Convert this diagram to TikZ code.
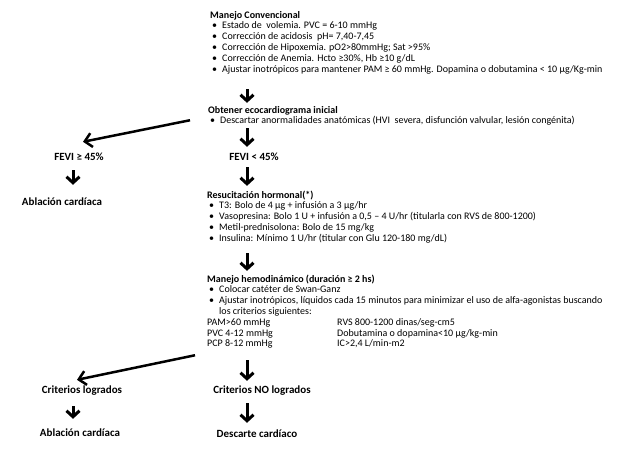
\documentclass[tikz,border=0pt]{standalone}
\usepackage{fontspec}
\setmainfont{Carlito}
\usetikzlibrary{arrows.meta,calc}
\newcommand\bul{\makebox[12pt][l]{\hspace{2pt}•}}
\begin{document}
\begin{tikzpicture}[x=1pt,y=-1pt,
  blk/.style={inner sep=0pt, anchor=base west, font=\fontsize{10}{10.8}\selectfont},
  lbl/.style={inner sep=0pt, anchor=base, text height=7.5pt, text depth=2.5pt, font=\fontsize{11}{12}\selectfont\bfseries},
  varr/.style={line width=3pt, -{Straight Barb[length=6pt,width=13pt,line width=3pt]}},
  darr/.style={line width=2.5pt, -{Straight Barb[length=7pt,width=14pt,line width=2.5pt]}}]
\useasboundingbox (0,0) rectangle (617,466);
\fill[white] (0,0) rectangle (617,466);
\coordinate (ax) at (247,0);
\coordinate (lx) at (73,0);

\node[blk] (conv) at (210,18) {\begin{tabular}[t]{@{}l@{}l@{}}
\multicolumn{2}{@{}l@{}}{\textbf{Manejo Convencional}}\\
\bul & Estado de\ \ volemia. PVC = 6-10 mmHg\\
\bul & Corrección de acidosis\ \ pH= 7,40-7,45\\
\bul & Corrección de Hipoxemia. pO2>80mmHg; Sat >95\%\\
\bul & Corrección de Anemia. Hcto ≥30\%, Hb ≥10 g/dL\\
\bul & Ajustar inotrópicos para mantener PAM ≥ 60 mmHg. Dopamina o dobutamina < 10 µg/Kg-min
\end{tabular}};

\node[blk] (eco) at (208,113) {\begin{tabular}[t]{@{}l@{}l@{}}
\multicolumn{2}{@{}l@{}}{\textbf{Obtener ecocardiograma inicial}}\\
\bul & Descartar anormalidades anatómicas (HVI\ \ severa, disfunción valvular, lesión congénita)
\end{tabular}};

\node[lbl] (fevilt) at (254,160) {FEVI < 45\%};
\node[lbl] (fevige) at (79,160) {FEVI ≥ 45\%};
\node[lbl] (abl1) at (62,205) {Ablación cardíaca};

\node[blk] (res) at (207,198) {\begin{tabular}[t]{@{}l@{}l@{}}
\multicolumn{2}{@{}l@{}}{\textbf{Resucitación hormonal(*)}}\\
\bul & T3: Bolo de 4 µg + infusión a 3 µg/hr\\
\bul & Vasopresina: Bolo 1 U + infusión a 0,5 – 4 U/hr (titularla con RVS de 800-1200)\\
\bul & Metil-prednisolona: Bolo de 15 mg/kg\\
\bul & Insulina: Mínimo 1 U/hr (titular con Glu 120-180 mg/dL)
\end{tabular}};

\node[blk] (hemo) at (207,282) {\begin{tabular}[t]{@{}l@{}l@{}}
\multicolumn{2}{@{}l@{}}{\textbf{Manejo hemodinámico (duración ≥ 2 hs)}}\\
\bul & Colocar catéter de Swan-Ganz\\
\bul & Ajustar inotrópicos, líquidos cada 15 minutos para minimizar el uso de alfa-agonistas buscando\\
 & los criterios siguientes:\\
\multicolumn{2}{@{}l@{}}{\makebox[130pt][l]{PAM>60 mmHg}RVS 800-1200 dinas/seg-cm5}\\
\multicolumn{2}{@{}l@{}}{\makebox[130pt][l]{PVC 4-12 mmHg}Dobutamina o dopamina<10 µg/kg-min}\\
\multicolumn{2}{@{}l@{}}{\makebox[130pt][l]{PCP 8-12 mmHg}IC>2,4 L/min-m2}
\end{tabular}};

\node[lbl] (log) at (82,393) {Criterios logrados};
\node[lbl] (nolog) at (262,393) {Criterios NO logrados};
\node[lbl] (abl2) at (80,436) {Ablación cardíaca};
\node[lbl] (desc) at (257,437) {Descarte cardíaco};

\draw[varr] ($(conv.south -| ax)+(0,13.8)$) -- ($(eco.north -| ax)+(0,-2.4)$);
\draw[varr] ($(eco.south -| ax)+(0,1)$) -- ($(fevilt.north -| ax)+(0,-5.5)$);
\draw[varr] ($(fevilt.south -| ax)+(0,4.5)$) -- ($(res.north -| ax)+(0,-4.4)$);
\draw[varr] ($(res.south -| ax)+(0,8.6)$) -- ($(hemo.north -| ax)+(0,-3.4)$);
\draw[varr] ($(hemo.south -| ax)+(0,10)$) -- ($(nolog.north -| ax)+(0,-4.5)$);
\draw[varr] ($(nolog.south -| ax)+(0,7.5)$) -- ($(desc.north -| ax)+(0,-6.5)$);
\draw[varr] ($(fevige.south -| lx)+(0,7.5)$) -- ($(abl1.north -| lx)+(0,-12.5)$);
\draw[varr] ($(log.south -| lx)+(0,10.5)$) -- ($(abl2.north -| lx)+(0,-9.5)$);
\draw[darr] ($(eco.west)+(-18,4)$) -- ($(fevige.north)+(4,-10.5)$);
\draw[darr] ($(hemo.south west)+(-12,5)$) -- ($(log.north)+(-5,-5.5)$);
\end{tikzpicture}
\end{document}
